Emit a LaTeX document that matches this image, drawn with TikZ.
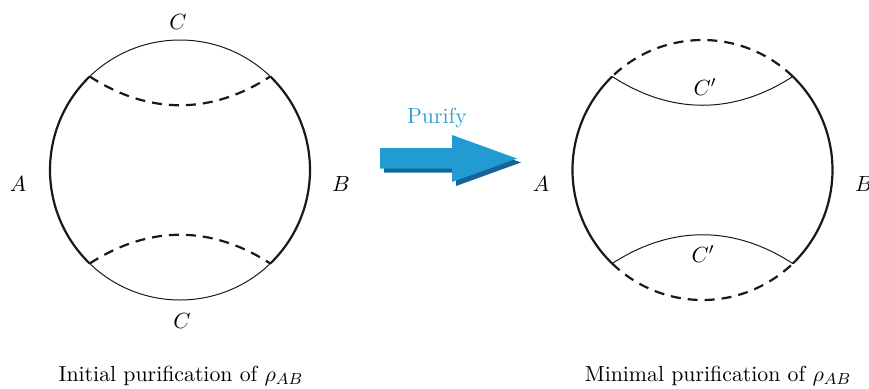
\documentclass[tikz,border=0pt]{standalone}
\definecolor{arrowblue}{RGB}{33,155,210}
\definecolor{shadowblue}{RGB}{20,100,155}
\definecolor{textblue}{RGB}{45,160,215}
\begin{document}
\begin{tikzpicture}[x=0.5pt,y=0.5pt,
  thickarc/.style={line width=1.1pt, black!90},
  thinarc/.style={line width=0.5pt, black!90},
  dasharc/.style={line width=1.1pt, black!90, dash pattern=on 5pt off 3.5pt},
  lbl/.style={font=\fontsize{10.9}{13}\selectfont, inner sep=0pt},
  captext/.style={font=\fontsize{10.9}{13}\selectfont, inner sep=0pt}]
\useasboundingbox (0,0) rectangle (869,388);
% centers
\coordinate (cl) at (180,218);
\coordinate (cr) at (702.5,218);
% left circle points
\coordinate (L1) at ([shift={(cl)}]134:130);
\coordinate (L2) at ([shift={(cl)}]46:130);
\coordinate (L3) at ([shift={(cl)}]226:130);
\coordinate (L4) at ([shift={(cl)}]314:130);
% right circle points
\coordinate (R1) at ([shift={(cr)}]134:130);
\coordinate (R2) at ([shift={(cr)}]46:130);
\coordinate (R3) at ([shift={(cr)}]226:130);
\coordinate (R4) at ([shift={(cr)}]314:130);
% left circle
\draw[thickarc] (L1) arc[start angle=134, end angle=226, radius=130];
\draw[thickarc] (L4) arc[start angle=-46, end angle=46, radius=130];
\draw[thinarc] (L2) arc[start angle=46, end angle=134, radius=130];
\draw[thinarc] (L3) arc[start angle=226, end angle=314, radius=130];
\draw[dasharc] (L1) to[bend right=33] (L2);
\draw[dasharc] (L3) to[bend left=33] (L4);
% right circle
\draw[thickarc] (R1) arc[start angle=134, end angle=226, radius=130];
\draw[thickarc] (R4) arc[start angle=-46, end angle=46, radius=130];
\draw[dasharc] (R2) arc[start angle=46, end angle=134, radius=130];
\draw[dasharc] (R3) arc[start angle=226, end angle=314, radius=130];
\draw[thinarc] (R1) to[bend right=33] (R2);
\draw[thinarc] (R3) to[bend left=33] (R4);
% labels
\node[lbl] (ctop) at (178,366) {$C$};
\node[lbl] (cbot) at (182,67) {$C$};
\node[lbl] (al) at (18,204) {$A$};
\node[lbl] (bl) at (341,204) {$B$};
\node[lbl] (ar) at (541,204) {$A$};
\node[lbl] (br) at (864,204) {$B$};
\node[lbl] (cpt) at (705,301) {$C'$};
\node[lbl] (cpb) at (703,134) {$C'$};
\node[lbl, text=textblue] (purify) at (437,270) {Purify};
% arrow
\fill[shadowblue] (384,215.5) -- (456,215.5) -- (456,202) -- (521,225.5) -- (456,249) -- (456,236) -- (384,236) -- cycle;
\fill[arrowblue] (380,219.5) -- (452,219.5) -- (452,206) -- (517,229.5) -- (452,253) -- (452,240) -- (380,240) -- cycle;
% captions
\node[captext] (capl) at (181,12) {Initial purification of $\rho_{AB}$};
\node[captext] (capr) at (718,12) {Minimal purification of $\rho_{AB}$};
\end{tikzpicture}
\end{document}
